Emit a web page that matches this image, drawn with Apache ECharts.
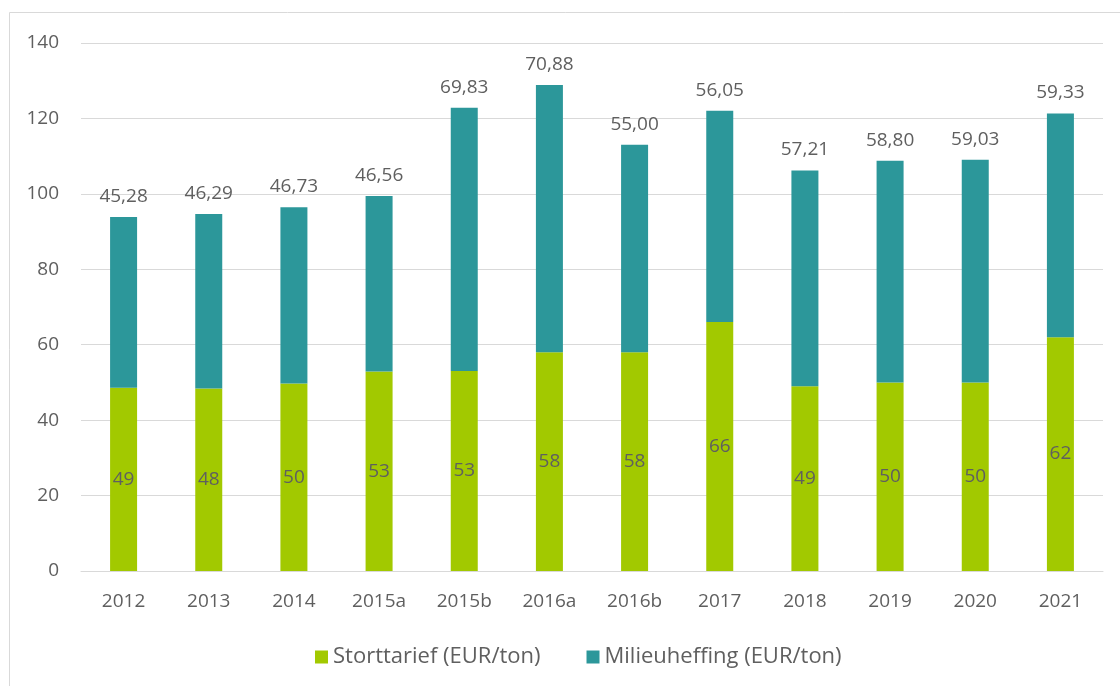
<!DOCTYPE html>
<html>
<head>
<meta charset="utf-8">
<script src="https://cdn.jsdelivr.net/npm/echarts@6/dist/echarts.min.js"></script>
<style>
  html, body { margin: 0; padding: 0; background: #fff; }
  #main { width: 1120px; height: 686px; }
</style>
</head>
<body>
<div id="main"></div>
<script>
var categories = ['2012', '2013', '2014', '2015a', '2015b', '2016a', '2016b', '2017', '2018', '2019', '2020', '2021'];
var storttarief = [48.6, 48.4, 49.7, 52.9, 53.0, 58.0, 58.0, 66.0, 49.0, 50.0, 50.0, 62.0];
var milieuheffing = [45.28, 46.29, 46.73, 46.56, 69.83, 70.88, 55.00, 56.05, 57.21, 58.80, 59.03, 59.33];
var yTicks = { min: 0, max: 140, interval: 20 };

var chartDom = document.getElementById('main');
var myChart = echarts.init(chartDom);
var option;

var textColor = '#5f5f5f';
var font = '"Open Sans", "Noto Sans", sans-serif';

option = {
    backgroundColor: '#fff',
    textStyle: { fontFamily: font },
    animation: false,
    graphic: [{
        type: 'rect',
        shape: { x: 9.5, y: 12.5, width: 1120, height: 700 },
        style: { fill: 'none', stroke: '#d9d9d9', lineWidth: 1 }
    }],
    grid: { left: 81, right: 17, top: 43, bottom: 115 },
    legend: {
        top: 641,
        left: 310,
        itemWidth: 13,
        itemHeight: 13,
        itemGap: 46,
        icon: 'rect',
        textStyle: { color: textColor, fontSize: 22, fontFamily: font },
        data: ['Storttarief (EUR/ton)', 'Milieuheffing (EUR/ton)']
    },
    xAxis: {
        type: 'category',
        data: categories,
        axisLine: { lineStyle: { color: '#d9d9d9', width: 1 } },
        axisTick: { show: false },
        axisLabel: { color: textColor, fontSize: 19, margin: 21 }
    },
    yAxis: {
        type: 'value',
        min: yTicks.min,
        max: yTicks.max,
        interval: yTicks.interval,
        axisLine: { show: false },
        axisTick: { show: false },
        axisLabel: { color: textColor, fontSize: 19, margin: 22 },
        splitLine: { lineStyle: { color: '#d9d9d9', width: 1 } }
    },
    series: [
        {
            name: 'Storttarief (EUR/ton)',
            type: 'bar',
            stack: 'total',
            barWidth: 27,
            data: storttarief,
            itemStyle: { color: '#a2c900' },
            label: {
                show: true,
                position: 'inside',
                color: textColor,
                fontSize: 19,
                formatter: function (p) { return Math.round(p.value); }
            }
        },
        {
            name: 'Milieuheffing (EUR/ton)',
            type: 'bar',
            stack: 'total',
            barWidth: 27,
            data: milieuheffing,
            itemStyle: { color: '#2c979a' },
            label: {
                show: true,
                position: 'top',
                distance: 11,
                color: textColor,
                fontSize: 19,
                formatter: function (p) { return p.value.toFixed(2).replace('.', ','); }
            }
        }
    ]
};

option && myChart.setOption(option);
</script>
</body>
</html>
